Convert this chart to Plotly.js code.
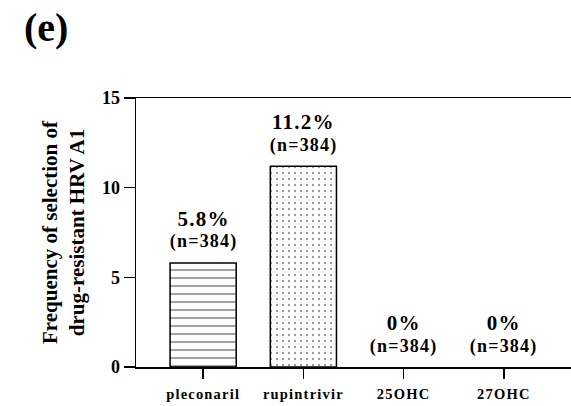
<!DOCTYPE html>
<html>
<head>
<meta charset="utf-8">
<script src="https://cdn.plot.ly/plotly-3.0.1.min.js"></script>
<style>
  html, body { margin: 0; padding: 0; background: #fff; }
  #chart { width: 571px; height: 406px; }
  .xtick text { letter-spacing: 1.2px; }
  .annotation-text.val { letter-spacing: 1.2px; }
</style>
</head>
<body>
<div id="chart"></div>
<script>
const categories = ["pleconaril", "rupintrivir", "25OHC", "27OHC"];
const values = [5.8, 11.2, 0, 0];
const pctLabels = ["5.8%", "11.2%", "0%", "0%"];
const nLabels = ["(n=384)", "(n=384)", "(n=384)", "(n=384)"];
const patternShapes = ["-", ".", "", ""];
const yTickVals = [0, 5, 10, 15];
const panelLabel = "(e)";
const yTitleLines = ["Frequency of selection of", "drug-resistant HRV A1"];

const FONT = "Liberation Serif";

const trace = {
  type: "bar",
  x: categories,
  y: values,
  width: 0.66,
  marker: {
    color: "#ffffff",
    line: { color: "#000000", width: values.map(v => v > 0 ? 1.5 : 0) },
    pattern: {
      shape: patternShapes,
      size: [8, 6, 8, 8],
      solidity: [0.18, 0.12, 0.1, 0.1],
      fgcolor: ["#000000", "#333333", "#000000", "#000000"],
      bgcolor: "#ffffff",
      fillmode: "overlay"
    }
  },
  hoverinfo: "none"
};

const annotations = [];
categories.forEach((c, i) => {
  annotations.push({
    x: c, y: values[i], xref: "x", yref: "y",
    text: "<b>" + pctLabels[i] + "</b>", showarrow: false,
    xanchor: "center", yanchor: "middle", yshift: 44,
    font: { family: FONT, size: 21, color: "#000" }
  });
  annotations.push({
    x: c, y: values[i], xref: "x", yref: "y",
    text: "<b>" + nLabels[i] + "</b>", showarrow: false,
    xanchor: "center", yanchor: "middle", yshift: 21,
    font: { family: FONT, size: 18, color: "#000" }
  });
});
annotations.push({
  x: -0.207, y: 1.262, xref: "paper", yref: "paper",
  text: "<b>" + panelLabel + "</b>", showarrow: false,
  xanchor: "center", yanchor: "middle",
  font: { family: FONT, size: 40, color: "#000" }
});

const layout = {
  width: 571, height: 406,
  margin: { l: 136, r: 0, t: 98, b: 39, pad: 0 },
  paper_bgcolor: "#ffffff",
  plot_bgcolor: "#ffffff",
  showlegend: false,
  font: { family: FONT, color: "#000" },
  xaxis: {
    type: "category",
    range: [-0.67, 3.67],
    showline: true, linecolor: "#000", linewidth: 1.5,
    mirror: true,
    ticks: "outside", ticklen: 10, tickwidth: 1.5, tickcolor: "#000",
    ticklabelstandoff: 3,
    showgrid: false, zeroline: false,
    tickfont: { family: FONT, size: 14.5, color: "#000", weight: "bold" },
    fixedrange: true
  },
  yaxis: {
    range: [0, 15],
    tickvals: yTickVals,
    ticktext: yTickVals.map(String),
    showline: true, linecolor: "#000", linewidth: 1.5,
    ticks: "outside", ticklen: 11, tickwidth: 1.5, tickcolor: "#000",
    showgrid: false, zeroline: false,
    tickfont: { family: FONT, size: 18, color: "#000", weight: "bold" },
    title: {
      text: yTitleLines.join("<br>"),
      font: { family: FONT, size: 21, color: "#000", weight: "bold" },
      standoff: 11
    },
    automargin: false,
    fixedrange: true
  },
  annotations: annotations
};

Plotly.newPlot("chart", [trace], layout, { staticPlot: true, displayModeBar: false }).then(() => {
  document.querySelectorAll(".annotation-text").forEach((el, idx) => {
    if (idx < categories.length * 2) el.classList.add("val");
  });
});
</script>
</body>
</html>
